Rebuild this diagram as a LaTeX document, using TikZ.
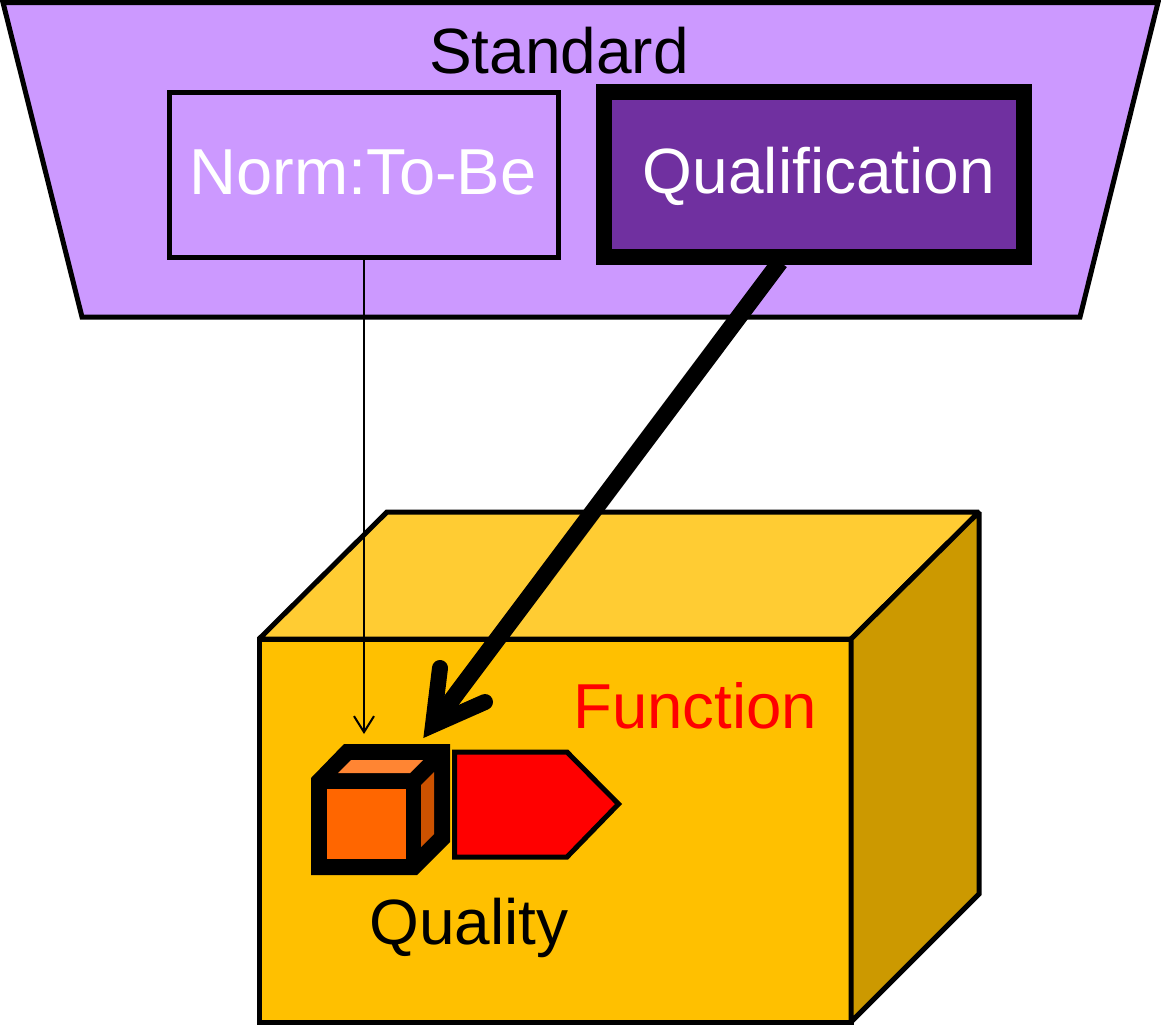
\documentclass[tikz,border=0pt]{standalone}
\usepackage{fontspec}
\setmainfont{Liberation Sans}
\usetikzlibrary{arrows.meta}
\definecolor{lil}{HTML}{CC99FF}
\definecolor{purp}{HTML}{7030A0}
\definecolor{gold}{HTML}{FFC000}
\definecolor{goldt}{HTML}{FFCC33}
\definecolor{golds}{HTML}{CC9900}
\definecolor{orng}{HTML}{FF6600}
\definecolor{orngt}{HTML}{FF8533}
\definecolor{orngs}{HTML}{CC5200}
\begin{document}
\begin{tikzpicture}[x=1pt,y=-1pt,line join=miter,miter limit=3,
  outl/.style={draw=black,line width=5pt},
  boxface/.style={outl,miter limit=1.5},
  lbl/.style={font=\fontsize{64}{66}\selectfont,inner sep=0pt,anchor=center}]
\useasboundingbox (0,0) rectangle (1161,1026);
% trapezoid
\draw[outl,fill=lil] (3,2.5) -- (1158,2.5) -- (1080,317) -- (82,317) -- cycle;
\node[lbl] (std) at (559,51) {Standard};
\node[draw=black,line width=5pt,fill=lil,minimum width=389pt,minimum height=165pt,inner sep=0pt,outer sep=0pt,anchor=center] (norm) at (364,174.5) {};
\node[lbl,text=white,font=\fontsize{65}{66}\selectfont] (normt) at (363,172.5) {Norm:To-Be};
\node[draw=black,line width=16pt,fill=purp,minimum width=420pt,minimum height=165pt,inner sep=0pt,outer sep=0pt,anchor=center] (qual) at (814,174.5) {};
\node[lbl,text=white] (qualt) at (819,176) {Qualification};
% big box
\draw[boxface,fill=gold] (259,639) rectangle (851,1022);
\draw[boxface,fill=goldt] (259,639) -- (387,512) -- (979,512) -- (851,639) -- cycle;
\draw[boxface,fill=golds] (851,639) -- (979,512) -- (979,894) -- (851,1022) -- cycle;
\node[lbl,text=red,font=\fontsize{63.5}{66}\selectfont] (func) at (695,705.5) {Function};
\node[lbl] (qty) at (469,928) {Quality};
% pentagon
\draw[outl,fill=red] (454.5,752) -- (567,752) -- (618.5,804) -- (567,857) -- (454.5,857) -- cycle;
% small cube: black silhouette with three faces
\fill[black] (311,778) -- (344,744) -- (450,744) -- (450,842) -- (417,875) -- (311,875) -- cycle;
\fill[orng] (327,789) rectangle (406,859);
\fill[orngt] (338,773) -- (351,760) -- (423,760) -- (410,773) -- cycle;
\fill[orngs] (421,785) -- (434,772) -- (434,834) -- (421,847) -- cycle;
% connectors
\coordinate (a2) at (364,734);
\draw[line width=2pt,-{Straight Barb[length=16pt,width=20pt,line width=2pt]}] (norm.south) -- (a2);
\coordinate (b1) at (780,262);
\coordinate (b2) at (433,725);
\coordinate (b3) at (440,668);
\coordinate (b4) at (485,702);
\draw[line width=17pt] (b1) -- (b2);
\draw[line width=16pt,line cap=round,miter limit=10] (b3) -- (b2) -- (b4);
\end{tikzpicture}
\end{document}
